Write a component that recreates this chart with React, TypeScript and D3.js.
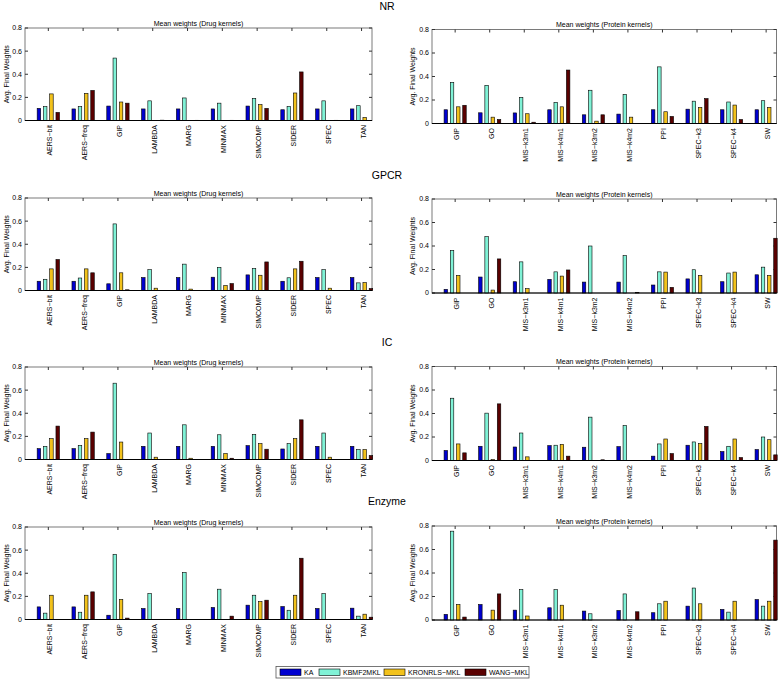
import React from "react";
import { scaleLinear, scaleBand } from "d3";

const series = ["KA", "KBMF2MKL", "KRONRLS\u2212MKL", "WANG\u2212MKL"];
const colors = ["#0000d0", "#80f2d6", "#f2c21c", "#5a0000"];

const drugKernels = ["AERS\u2212bit", "AERS\u2212freq", "GIP", "LAMBDA", "MARG", "MINMAX", "SIMCOMP", "SIDER", "SPEC", "TAN"];
const proteinKernels = ["GIP", "GO", "MIS\u2212k3m1", "MIS\u2212k4m1", "MIS\u2212k3m2", "MIS\u2212k4m2", "PPI", "SPEC\u2212k3", "SPEC\u2212k4", "SW"];
const yTicks = [0, 0.2, 0.4, 0.6, 0.8];
const datasets = ["NR", "GPCR", "IC", "Enzyme"];

// each row: [KA, KBMF2MKL, KRONRLS-MKL, WANG-MKL]
const nrDrug = [
  [0.105, 0.12, 0.23, 0.07], [0.10, 0.12, 0.235, 0.26], [0.125, 0.54, 0.16, 0.15], [0.10, 0.17, 0, 0.003],
  [0.10, 0.195, 0, 0.002], [0.10, 0.15, 0, 0.002], [0.125, 0.19, 0.137, 0.105], [0.093, 0.122, 0.238, 0.42],
  [0.10, 0.17, 0, 0.002], [0.10, 0.128, 0.026, 0],
];
const nrProtein = [
  [0.117, 0.35, 0.142, 0.155], [0.091, 0.325, 0.054, 0.034], [0.09, 0.222, 0.083, 0.011], [0.117, 0.18, 0.142, 0.455],
  [0.074, 0.283, 0.02, 0.074], [0.08, 0.248, 0.054, 0], [0.117, 0.482, 0.10, 0.06], [0.122, 0.19, 0.137, 0.212],
  [0.117, 0.183, 0.157, 0.034], [0.117, 0.194, 0.137, 0],
];
const gpcrDrug = [
  [0.08, 0.097, 0.187, 0.268], [0.08, 0.108, 0.187, 0.153], [0.058, 0.576, 0.153, 0.006], [0.112, 0.18, 0.02, 0],
  [0.112, 0.228, 0.012, 0], [0.115, 0.2, 0.043, 0.06], [0.135, 0.19, 0.132, 0.247], [0.08, 0.11, 0.187, 0.253],
  [0.112, 0.18, 0.02, 0], [0.112, 0.066, 0.068, 0.017],
];
const gpcrProtein = [
  [0.031, 0.362, 0.15, 0], [0.136, 0.48, 0.025, 0.29], [0.096, 0.265, 0.037, 0], [0.116, 0.18, 0.144, 0.196],
  [0.093, 0.40, 0, 0], [0.093, 0.318, 0, 0.006], [0.068, 0.18, 0.178, 0.048], [0.12, 0.198, 0.15, 0],
  [0.096, 0.17, 0.178, 0], [0.155, 0.22, 0.15, 0.466],
];
const icDrug = [
  [0.094, 0.114, 0.18, 0.289], [0.094, 0.122, 0.18, 0.237], [0.051, 0.66, 0.151, 0], [0.114, 0.229, 0.02, 0],
  [0.114, 0.30, 0.011, 0], [0.114, 0.214, 0.051, 0.011], [0.12, 0.217, 0.137, 0.089], [0.091, 0.137, 0.18, 0.343],
  [0.114, 0.229, 0.02, 0], [0.114, 0.086, 0.086, 0.034],
];
const icProtein = [
  [0.085, 0.53, 0.141, 0.065], [0.121, 0.403, 0.008, 0.482], [0.115, 0.234, 0.031, 0], [0.127, 0.13, 0.137, 0.037],
  [0.113, 0.369, 0, 0.006], [0.118, 0.298, 0, 0], [0.037, 0.141, 0.183, 0.059], [0.13, 0.158, 0.144, 0.29],
  [0.076, 0.121, 0.183, 0.025], [0.093, 0.2, 0.177, 0.048],
];
const enzymeDrug = [
  [0.109, 0.055, 0.21, 0], [0.109, 0.063, 0.21, 0.239], [0.037, 0.564, 0.173, 0.012], [0.095, 0.224, 0, 0],
  [0.095, 0.406, 0, 0], [0.104, 0.262, 0, 0.029], [0.124, 0.21, 0.155, 0.167], [0.112, 0.08, 0.21, 0.53],
  [0.095, 0.224, 0, 0], [0.098, 0.029, 0.046, 0.02],
];
const enzymeProtein = [
  [0.048, 0.756, 0.132, 0.025], [0.132, 0, 0.084, 0.222], [0.084, 0.258, 0.034, 0], [0.104, 0.258, 0.126, 0],
  [0.076, 0.053, 0, 0], [0.081, 0.222, 0, 0.07], [0.062, 0.138, 0.16, 0], [0.118, 0.272, 0.138, 0],
  [0.09, 0.067, 0.16, 0], [0.174, 0.118, 0.16, 0.68],
];

const drugRows = [nrDrug, gpcrDrug, icDrug, enzymeDrug];
const proteinRows = [nrProtein, gpcrProtein, icProtein, enzymeProtein];

const FONT = "'Liberation Sans', Arial, Helvetica, sans-serif";
const titleY = [10, 179, 346, 505];
const leftTop = [28, 198, 367, 527];
const rightTop = [29.5, 199, 366.5, 526];

type PanelProps = {
  x0: number; x1: number; top: number; height: number;
  labels: string[]; values: number[][]; title: string; yLabelX: number;
};

const Panel = ({ x0, x1, top, height, labels, values, title, yLabelX }: PanelProps) => {
  const x = scaleLinear().domain([0.33, 10.3]).range([x0, x1]);
  const y = scaleLinear().domain([0, 0.8]).range([top + height, top]);
  const unit = x(2) - x(1);
  const inner = scaleBand<string>().domain(series).range([-0.36 * unit, 0.36 * unit]).paddingInner(0.44).paddingOuter(0.22);
  const bottom = y(0);
  return (
    <g fontFamily={FONT}>
      <text x={(x0 + x1) / 2} y={top - 2.5} fontSize={7} textAnchor="middle">{title}</text>
      <rect x={x0} y={top} width={x1 - x0} height={height} fill="white" stroke="#7a7a7a" strokeWidth={1} />
      {yTicks.map((t) => (
        <g key={t}>
          <line x1={x0} x2={x0 + 3} y1={y(t)} y2={y(t)} stroke="#333" />
          <line x1={x1} x2={x1 - 3} y1={y(t)} y2={y(t)} stroke="#333" />
          <text x={x0 - 3} y={y(t)} dy="0.35em" fontSize={7} textAnchor="end">{t === 0 ? "0" : t.toFixed(1)}</text>
        </g>
      ))}
      <text transform={`translate(${yLabelX},${top + height / 2}) rotate(-90)`} fontSize={7} textAnchor="middle">Avg. Final Weights</text>
      {labels.map((lab, i) => {
        const cx = x(i + 1);
        return (
          <g key={lab}>
            <line x1={cx} x2={cx} y1={top} y2={top + 3} stroke="#333" />
            {values[i].map((v, s) => (
              <rect key={s} x={cx + (inner(series[s]) as number)} width={inner.bandwidth()}
                y={y(v)} height={bottom - y(v)} fill={colors[s]} stroke="#000" strokeWidth={0.6} />
            ))}
            <text transform={`translate(${cx + 1.5},${bottom + 4.5}) rotate(-90)`} dy="0.35em" fontSize={7} textAnchor="end">{lab}</text>
          </g>
        );
      })}
      <line x1={x0} x2={x1} y1={bottom} y2={bottom} stroke="#000" strokeWidth={1} />
    </g>
  );
};

const legendX = [280, 319, 384, 465];

const App = () => {
  return (
    <svg width={778} height={679} style={{ position: "absolute", left: 0, top: 0, background: "white" }}>
      {datasets.map((d, r) => (
        <g key={d}>
          <text x={387} y={titleY[r]} fontSize={10.5} fontFamily={FONT} textAnchor="middle">{d}</text>
          <Panel x0={25} x1={372} top={leftTop[r]} height={92.5} labels={drugKernels} values={drugRows[r]}
            title="Mean weights (Drug kernels)" yLabelX={9} />
          <Panel x0={432} x1={776.5} top={rightTop[r]} height={94} labels={proteinKernels} values={proteinRows[r]}
            title="Mean weights (Protein kernels)" yLabelX={414.5} />
        </g>
      ))}
      <g fontFamily={FONT}>
        <rect x={276} y={666.5} width={253} height={11.5} fill="white" stroke="#555" strokeWidth={0.8} />
        {series.map((s, i) => (
          <g key={s}>
            <rect x={legendX[i]} y={669} width={21} height={6.5} fill={colors[i]} stroke="#000" strokeWidth={0.6} />
            <text x={legendX[i] + 24} y={672.5} dy="0.35em" fontSize={7}>{s}</text>
          </g>
        ))}
      </g>
    </svg>
  );
};

export default App;
